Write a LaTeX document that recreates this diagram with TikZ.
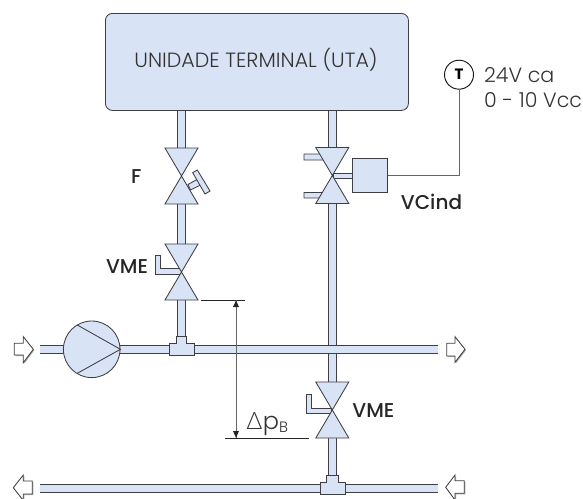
\documentclass[tikz,border=0pt]{standalone}
\usepackage{fontspec}
\setmainfont{Poppins}[UprightFont=* Light,BoldFont=* Medium]
\newfontfamily\heavyf{Poppins}[UprightFont=* Bold]
\newfontfamily\greekf{Lato}[UprightFont=* Light]
\usetikzlibrary{calc}
\definecolor{pipefill}{HTML}{D9E3F6}
\definecolor{edge}{HTML}{3E3E44}
\definecolor{shade}{HTML}{A8A8A8}
\tikzset{
  x=1pt,y=-1pt,
  outline/.style={draw=edge,line width=0.85pt,fill=pipefill,line join=miter},
  pipe/.style={draw=edge,line width=1.1pt,double=pipefill,double distance=6.8pt},
  wire/.style={draw=edge!80,line width=0.85pt},
  dimline/.style={draw=black!85,line width=0.85pt},
  plainlabel/.style={inner sep=0pt,font=\fontsize{20.6}{24}\selectfont,text=black!80},
  taglabel/.style={inner sep=0pt,font=\bfseries\fontsize{20}{24}\selectfont,text=black!85},
  flowarrow/.style={draw=edge,line width=0.85pt,fill=white,line join=miter},
  flowshadow/.style={fill=shade,draw=none},
  pics/valvepic/.style={code={
    \path[outline] (-16.5,-28) -- (16.5,-28) -- (16.5,-28) -- (-16.5,28) -- (16.5,28) -- cycle;
  }},
}
\begin{document}
\begin{tikzpicture}
\useasboundingbox (0,0) rectangle (583,498);
% anchors
\coordinate (vF) at (181.5,176);
\coordinate (vL) at (181.5,272);
\coordinate (vC) at (332.3,175.5);
\coordinate (vR) at (332.3,410);
\coordinate (teeA) at (181.5,349.3);
\coordinate (teeB) at (332.3,488.3);
\coordinate (inA) at (40,349.3);
\coordinate (outA) at (438,349.3);
\coordinate (outB) at (40,488.3);
\coordinate (inB) at (438,488.3);
% box
\node[outline,rounded corners=7pt,minimum width=303pt,minimum height=97pt,anchor=north west,inner sep=0pt] (uta) at (105,13) {};
\node[plainlabel] (utatext) at (256,59.5) {UNIDADE TERMINAL (UTA)};
% vertical pipes
\draw[pipe] (uta.south -| vF) -- ($(vF)+(0,-28)$);
\draw[pipe] ($(vF)+(0,28)$) -- ($(vL)+(0,-28)$);
\draw[pipe] ($(vL)+(0,28)$) -- (teeA);
\draw[pipe] (uta.south -| vC) -- ($(vC)+(0,-28)$);
\draw[pipe] ($(vC)+(0,28)$) -- ($(vR)+(0,-28)$);
\draw[pipe] ($(vR)+(0,28)$) -- (teeB);
% horizontal pipes
\draw[pipe] (inA) -- (outA);
\draw[pipe] (outB) -- (inB);
% tees
\path[outline] (176,336.7) -- (186.7,336.7) -- (186.7,343.3) -- (194.3,343.3) -- (194.3,355) -- (169,355) -- (169,343.3) -- (176,343.3) -- cycle;
\path[outline] (326.7,475.3) -- (338.3,475.3) -- (338.3,482.3) -- (345.3,482.3) -- (345.3,494) -- (320,494) -- (320,482.3) -- (326.7,482.3) -- cycle;
% valve F handle
\path[outline] (188,184.5) -- (197,179.5) -- (200.5,185) -- (190.5,190) -- cycle;
\path[outline] (197.3,170) -- (192.7,172.7) -- (205,194) -- (210,191) -- cycle;
% VME handles
\path[outline] (155.7,255) -- (160.7,255) -- (160.7,268.3) -- (181,268.3) -- (181,274) -- (155.7,274) -- cycle;
\path[outline] (306,394) -- (311.7,394) -- (311.7,408.3) -- (331,408.3) -- (331,413.3) -- (306,413.3) -- cycle;
% control valve stubs
\path[outline] (304,154) -- (322,154) -- (325,160) -- (304,160) -- cycle;
\path[outline] (304,192.5) -- (325,192.5) -- (322,198) -- (304,198) -- cycle;
\path[outline] (333,173) -- (353,173) -- (353,178) -- (333,178) -- cycle;
% valves
\pic at (vF) {valvepic};
\pic at (vL) {valvepic};
\pic at (vC) {valvepic};
\pic at (vR) {valvepic};
% actuator, thermostat
\node[outline,minimum width=34.6pt,minimum height=34pt,inner sep=0pt] (act) at (370,175.3) {};
\node[draw=black!90,line width=0.95pt,fill=white,circle,minimum size=29pt,inner sep=0pt,font=\heavyf\fontsize{15}{16}\selectfont] (thermo) at (459,74.7) {T};
\draw[wire] (act.east) -| (thermo.south);
% pump
\node[outline,circle,minimum size=56.6pt,inner sep=0pt] (pump) at (91.7,349.3) {};
\coordinate (pA) at (77.3,325);
\coordinate (pB) at (77.3,373.3);
\draw[draw=edge,line width=0.85pt] (pA) -- (pump.east) -- (pB);
% flow arrows
\path[flowshadow] (15.3,344.3) -- (24.3,344.3) -- (24.3,337.7) -- (34.3,350.3) -- (24.3,363.7) -- (24.3,356) -- (15.3,356) -- cycle;
\path[flowarrow] (14.3,343.3) -- (23.3,343.3) -- (23.3,336.7) -- (33.3,349.3) -- (23.3,362.7) -- (23.3,355) -- (14.3,355) -- cycle;
\path[flowshadow] (447.7,344.3) -- (456,344.3) -- (456,337.7) -- (466,350.3) -- (456,363.3) -- (456,357) -- (447.7,357) -- cycle;
\path[flowarrow] (446.7,343.3) -- (455,343.3) -- (455,336.7) -- (465,349.3) -- (455,362.3) -- (455,356) -- (446.7,356) -- cycle;
\path[flowshadow] (14.3,488.7) -- (24.3,476) -- (24.3,482) -- (33.3,482) -- (33.3,495) -- (24.3,495) -- (24.3,501.5) -- cycle;
\path[flowarrow] (13.3,487.7) -- (23.3,475) -- (23.3,481) -- (32.3,481) -- (32.3,494) -- (23.3,494) -- (23.3,500.5) -- cycle;
\path[flowshadow] (446.7,488.3) -- (456,476) -- (456,481.7) -- (465.3,481.7) -- (465.3,494.3) -- (456,494.3) -- (456,501) -- cycle;
\path[flowarrow] (445.7,487.3) -- (455,475) -- (455,480.7) -- (464.3,480.7) -- (464.3,493.3) -- (455,493.3) -- (455,500) -- cycle;
% dimension
\coordinate (dimtopL) at (201,300);
\coordinate (dimtopR) at (245,300);
\coordinate (dimbotL) at (225,438.3);
\coordinate (dimbotR) at (309.3,438.3);
\draw[dimline] (dimtopL) -- (dimtopR);
\draw[dimline] (dimbotL) -- (dimbotR);
\coordinate (dimA) at (236,300);
\coordinate (dimB) at (236,438.3);
\draw[draw=black!60,line width=0.85pt] (dimA) -- (dimB);
\fill[black!85] (236,300.5) -- (239,307) -- (233,307) -- cycle;
\fill[black!85] (236,437.8) -- (239,431) -- (233,431) -- cycle;
% labels
\node[taglabel] (lF) at (136.3,177) {F};
\node[taglabel] (lVL) at (127,266.7) {VME};
\node[taglabel] (lVR) at (373.4,410.7) {VME};
\node[taglabel,anchor=west] (lVC) at (400.7,201.7) {VCind};
\node[plainlabel,anchor=base west] (l24) at (484,82) {24V ca};
\node[plainlabel,anchor=base west] (l010) at (484,107) {0 - 10 Vcc};
\node[anchor=base west,inner sep=0pt,text=black!80] (ldp) at (246.5,429.5) {\fontsize{24}{26}\selectfont{\greekf\char"0394}\kern0.5pt p\raisebox{-2.5pt}{\fontsize{15}{18}\selectfont B}};
\end{tikzpicture}
\end{document}
